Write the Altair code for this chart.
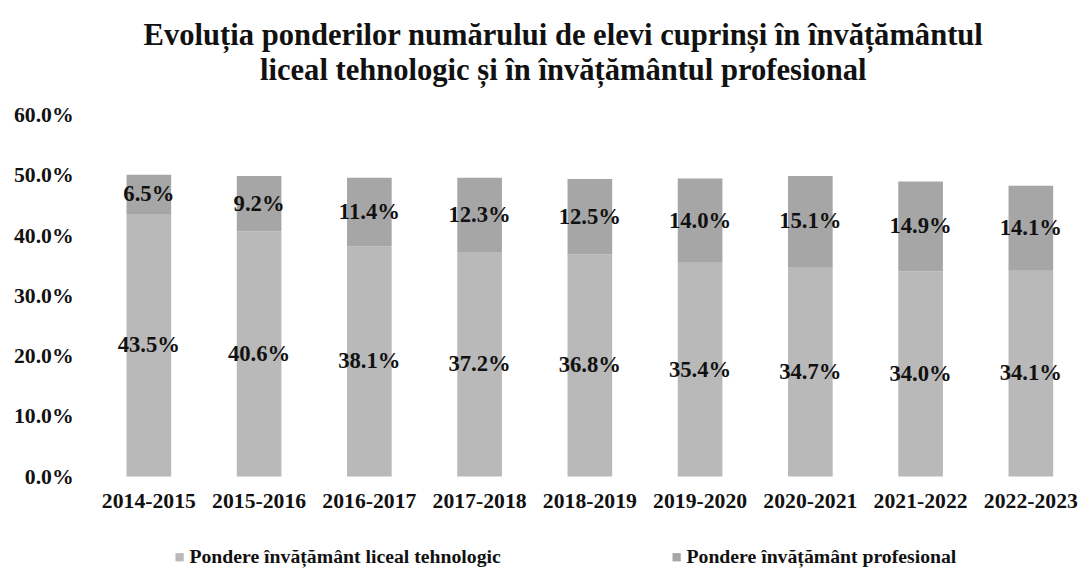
import altair as alt
import pandas as pd

years = ["2014-2015", "2015-2016", "2016-2017", "2017-2018", "2018-2019",
         "2019-2020", "2020-2021", "2021-2022", "2022-2023"]
liceal = [43.5, 40.6, 38.1, 37.2, 36.8, 35.4, 34.7, 34.0, 34.1]
profesional = [6.5, 9.2, 11.4, 12.3, 12.5, 14.0, 15.1, 14.9, 14.1]
series_names = ["Pondere învățământ liceal tehnologic", "Pondere învățământ profesional"]
series_colors = ["#b9b9b9", "#a6a6a6"]
title_lines = ["Evoluția ponderilor numărului de elevi cuprinși în învățământul",
               "liceal tehnologic și în învățământul profesional"]

rows = []
for i, y in enumerate(years):
    rows.append({"year": y, "series": series_names[0], "value": liceal[i], "order": 0})
    rows.append({"year": y, "series": series_names[1], "value": profesional[i], "order": 1})
df = pd.DataFrame(rows)

FONT = "Liberation Serif"

base = alt.Chart(df).transform_stack(
    stack="value", groupby=["year"], as_=["v0", "v1"],
    sort=[alt.SortField("order", order="ascending")]
).transform_calculate(mid="(datum.v0 + datum.v1) / 2")

x_enc = alt.X("year:N", sort=years, title=None,
              scale=alt.Scale(paddingInner=0.595, paddingOuter=0.1),
              axis=alt.Axis(labelAngle=0, domain=False, ticks=False, labelPadding=15,
                            labelFont=FONT, labelFontSize=22, labelFontWeight="bold",
                            labelColor="#111111"))

bars = base.mark_bar().encode(
    x=x_enc,
    y=alt.Y("v0:Q", title=None,
            scale=alt.Scale(domain=[0, 60]),
            axis=alt.Axis(values=[0, 10, 20, 30, 40, 50, 60], grid=False, domain=False,
                          ticks=False, labelPadding=43,
                          labelExpr="format(datum.value, '.1f') + '%'",
                          labelFont=FONT, labelFontSize=22, labelFontWeight="bold",
                          labelColor="#111111")),
    y2="v1:Q",
    color=alt.Color("series:N", sort=series_names,
                    scale=alt.Scale(domain=series_names, range=series_colors),
                    legend=alt.Legend(title=None, orient="none", direction="horizontal",
                                      legendX=55, legendY=439,
                                      symbolType="square", symbolSize=70,
                                      symbolStrokeWidth=0, symbolOffset=0,
                                      labelFont=FONT, labelFontSize=20,
                                      labelFontWeight="bold", labelColor="#111111",
                                      labelLimit=500, labelOffset=0,
                                      columnPadding=168)),
)

labels = base.mark_text(font=FONT, fontSize=23, fontWeight="bold", color="#111111").encode(
    x=alt.X("year:N", sort=years),
    y=alt.Y("mid:Q"),
    text=alt.Text("label:N"),
).transform_calculate(label="format(datum.value, '.1f') + '%'")

chart = alt.layer(bars, labels).properties(
    width=962, height=367,
    padding={"left": 5, "top": 9, "right": 0, "bottom": 2},
    title=alt.TitleParams(text=title_lines, font=FONT, fontSize=31, fontWeight="bold",
                          color="#111111", anchor="middle", dx=-27, offset=17,
                          lineHeight=35),
).configure_view(stroke=None)

chart.save("out.html", embed_options={"renderer": "svg", "actions": False})
